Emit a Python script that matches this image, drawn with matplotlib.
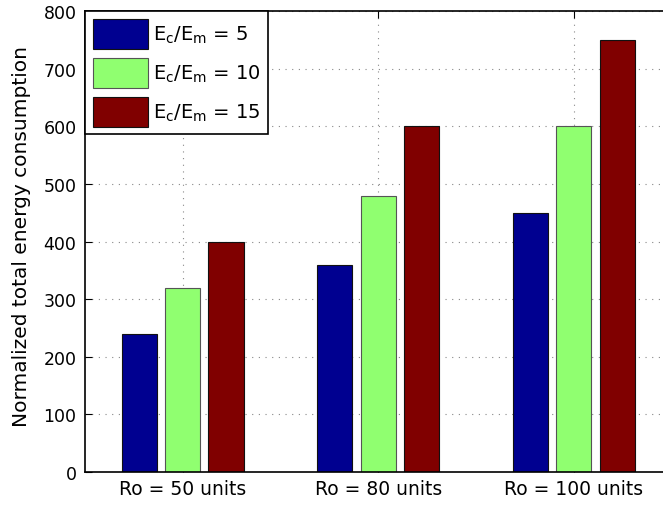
import numpy as np
import matplotlib
matplotlib.use('Agg')
from matplotlib import pyplot as plt

plt.rcParams['font.family'] = ['DejaVu Sans']
plt.rcParams['mathtext.fontset'] = 'dejavusans'

groups = ['Ro = 50 units', 'Ro = 80 units', 'Ro = 100 units']
ratio5 = [240, 360, 450]
ratio10 = [320, 480, 600]
ratio15 = [400, 600, 750]
series = [ratio5, ratio10, ratio15]
labels = [r'$\mathregular{E_c/E_m}$ = 5', r'$\mathregular{E_c/E_m}$ = 10', r'$\mathregular{E_c/E_m}$ = 15']
colors = ['#000090', '#90ff70', '#800000']
edges = ['#111111', '#555555', '#111111']

fig = plt.figure(figsize=(6.63, 5.06), dpi=100)
ax = fig.add_axes([0.128, 0.065, 0.885, 0.911])

x = np.arange(1, len(groups) + 1)
w = 0.18
step = 0.222
for i, vals in enumerate(series):
    ax.bar(x + (i - 1) * step, vals, width=w, color=colors[i],
           edgecolor=edges[i], linewidth=0.8, label=labels[i], zorder=2)

ax.set_xlim(0.5, 3.5)
ax.set_ylim(0, 800)
ax.set_xticks(x)
ax.set_xticklabels(groups)
ax.set_yticks(range(0, 801, 100))
ax.tick_params(direction='in', length=5, top=True, right=True)
ax.tick_params(axis='y', pad=6, labelsize=12.5)
ax.tick_params(axis='x', pad=5, labelsize=13.5)
for s in ax.spines.values():
    s.set_linewidth(1.2)
ax.grid(True, linestyle=(0, (1, 5)), color='#888888', linewidth=0.8, zorder=0)
ax.set_axisbelow(True)
ax.set_ylabel('Normalized total energy consumption', fontsize=14.5, labelpad=9)
ax.yaxis.label.set_y(0.513)

leg = ax.legend(loc='upper left', fontsize=14, handlelength=2.85, handleheight=2.0,
                labelspacing=0.45, borderaxespad=0, fancybox=False, framealpha=1,
                edgecolor='black', handletextpad=0.25, borderpad=0.4)
leg.get_frame().set_linewidth(1.2)

fig.savefig('out.png', dpi=100)
